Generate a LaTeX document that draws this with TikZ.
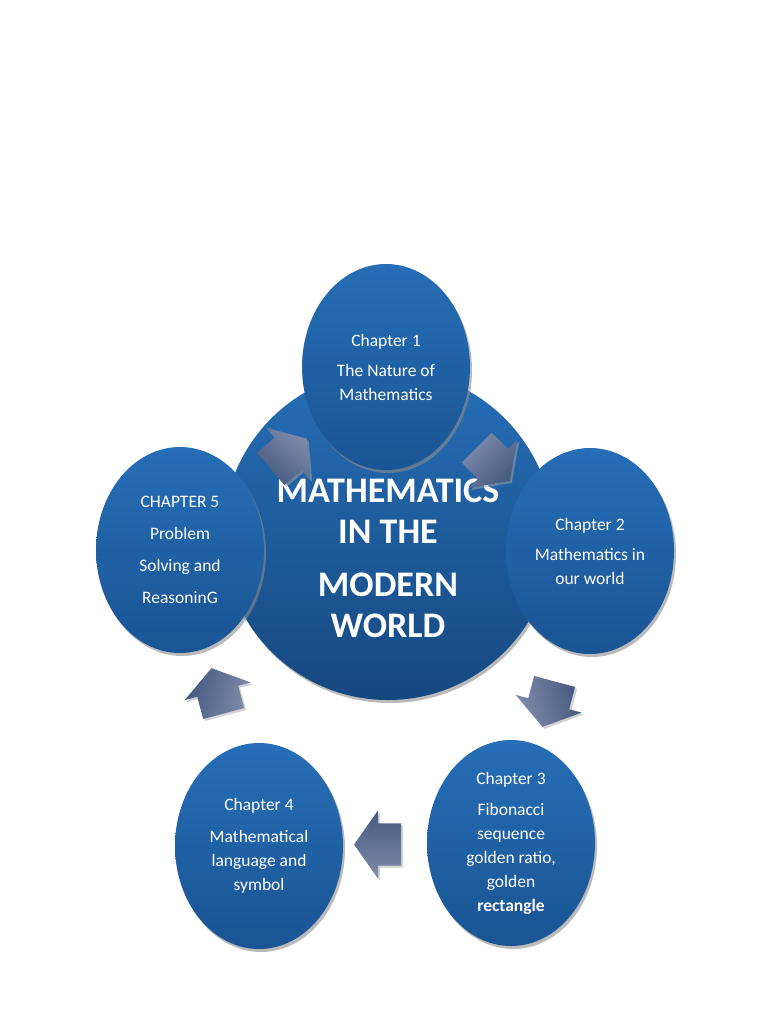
\documentclass[tikz,border=0pt]{standalone}
\usepackage{fontspec}
\setmainfont{Carlito}
\usetikzlibrary{shapes.geometric,shapes.arrows,shadows,calc}

\definecolor{balltop}{RGB}{38,110,182}
\definecolor{ballbot}{RGB}{26,84,148}
\definecolor{hubbot}{RGB}{22,72,128}
\definecolor{arrowtop}{RGB}{128,140,172}
\definecolor{arrowbot}{RGB}{68,88,126}

\begin{document}
\begin{tikzpicture}[x=1pt, y=-1pt,
    ball/.style={ellipse, minimum width=168pt, minimum height=206pt, inner sep=0pt,
        top color=balltop, bottom color=ballbot, text=white, align=center,
        font=\fontsize{17.5}{24}\selectfont,
        drop shadow={shadow xshift=2pt, shadow yshift=-3pt, fill=black!45, opacity=0.6}},
    hub/.style={circle, minimum size=330pt, inner sep=0pt,
        top color=balltop, bottom color=hubbot,
        drop shadow={shadow xshift=2pt, shadow yshift=-3pt, fill=black!45, opacity=0.6}},
    cyclearrow/.style={single arrow, minimum height=47pt, inner xsep=0pt, inner ysep=21pt,
        single arrow head extend=13pt, single arrow tip angle=110,
        top color=arrowtop, bottom color=arrowbot,
        drop shadow={shadow xshift=2pt, shadow yshift=-2pt, fill=black!35, opacity=0.5}}]

        \useasboundingbox (0,0) rectangle (768,1024);

        % ==========================================
        % Centro: Mathematics in the Modern World
        % ==========================================
        \node[hub] (hub) at (388,535) {};
        \node[font=\fontsize{36}{41}\selectfont\bfseries, text=white, align=center] (title) at (388,558)
            {MATHEMATICS\\IN THE\\[12pt]MODERN\\WORLD};

        % ==========================================
        % Capitulos
        % ==========================================
        \node[ball] (ch1) at (386,367) {Chapter 1\\[6pt]The Nature of\\Mathematics};
        \node[ball] (ch2) at (590,551) {Chapter 2\\[6pt]Mathematics in\\our world};
        \node[ball] (ch3) at (511,843)
            {Chapter 3\\[7pt]Fibonacci\\sequence\\golden ratio,\\golden\\\textbf{rectangle}};
        \node[ball] (ch4) at (259,846) {Chapter 4\\[8pt]Mathematical\\language and\\symbol};
        \node[ball, font=\fontsize{17.5}{32}\selectfont] (ch5) at (180,550)
            {CHAPTER 5\\Problem\\Solving and\\ReasoninG};

        % Flechas del ciclo
        \foreach \a/\b/\ang in {ch5/ch1/40, ch1/ch2/-45, ch2/ch3/-105, ch3/ch4/180, ch4/ch5/105}
            \node[cyclearrow, rotate=\ang, shading angle=-\ang] (arr-\a) at ($(\a)!0.5!(\b)$) {};

    \end{tikzpicture}
\end{document}
